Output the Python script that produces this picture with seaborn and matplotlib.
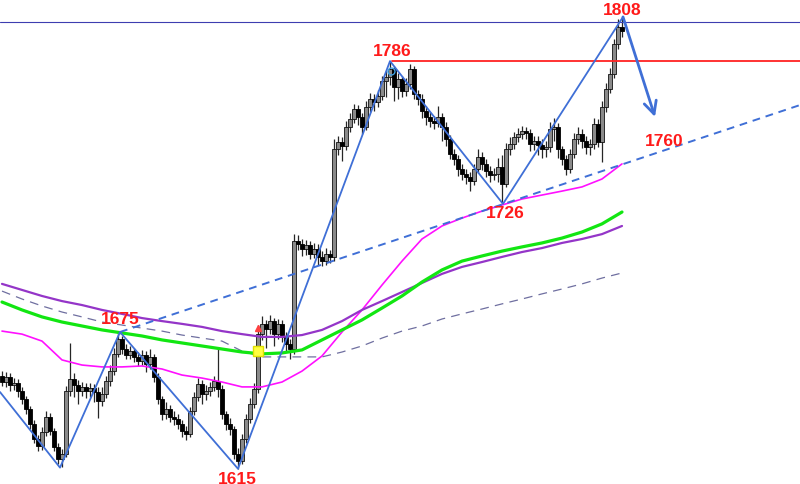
import numpy as np
import pandas as pd
import matplotlib
matplotlib.use("Agg")
import matplotlib.pyplot as plt
import seaborn as sns

# ---------------- data ----------------
open_ = [1655.0, 1652.3, 1654.5, 1651.0, 1651.9, 1648.4, 1645.0, 1640.7, 1634.3, 1627.8,
         1624.8, 1630.8, 1637.3, 1631.2, 1624.4, 1619.2, 1621.4, 1648.4, 1653.6, 1651.0,
         1648.4, 1650.2, 1648.4, 1649.7, 1648.0, 1644.1, 1647.2, 1652.7, 1657.0, 1664.4,
         1670.8, 1666.5, 1663.9, 1665.6, 1663.1, 1661.3, 1663.9, 1660.1, 1663.1, 1654.5,
         1645.0, 1638.6, 1640.7, 1637.3, 1636.4, 1634.3, 1631.2, 1630.0, 1639.8, 1645.9,
         1651.5, 1647.2, 1648.4, 1650.2, 1652.7, 1649.3, 1638.6, 1634.3, 1632.1, 1621.4,
         1618.3, 1627.8, 1636.4, 1642.9, 1649.3, 1673.0, 1677.3, 1675.1, 1678.5, 1673.0,
         1677.3, 1671.7, 1668.7, 1666.5, 1712.9, 1711.7, 1709.5, 1711.2, 1707.4, 1709.5,
         1706.1, 1704.3, 1707.4, 1706.1, 1752.5, 1755.5, 1753.8, 1762.0, 1765.4, 1769.7,
         1766.3, 1762.0, 1770.6, 1774.0, 1772.7, 1775.3, 1781.7, 1783.5, 1786.9, 1779.2,
         1782.6, 1777.4, 1780.5, 1786.9, 1776.2, 1774.0, 1768.8, 1766.3, 1764.5, 1763.7,
         1766.3, 1762.0, 1756.8, 1750.4, 1748.2, 1743.9, 1741.8, 1740.5, 1738.7, 1743.9,
         1749.1, 1746.1, 1743.0, 1741.3, 1741.8, 1744.8, 1737.5, 1752.5, 1754.7, 1757.7,
         1759.0, 1760.2, 1759.4, 1754.7, 1755.9, 1754.2, 1752.5, 1753.4, 1761.1, 1762.0,
         1752.5, 1748.2, 1743.9, 1750.4, 1756.8, 1759.0, 1755.9, 1753.4, 1754.7, 1763.3,
         1755.5, 1770.6, 1778.3, 1784.8, 1797.7, 1805.0]
close = [1652.3, 1654.5, 1651.0, 1651.9, 1648.4, 1645.0, 1640.7, 1634.3, 1627.8, 1624.8,
         1630.8, 1637.3, 1631.2, 1624.4, 1619.2, 1621.4, 1648.4, 1653.6, 1651.0, 1648.4,
         1650.2, 1648.4, 1649.7, 1648.0, 1644.1, 1647.2, 1652.7, 1657.0, 1664.4, 1670.8,
         1666.5, 1663.9, 1665.6, 1663.1, 1661.3, 1663.9, 1660.1, 1663.1, 1654.5, 1645.0,
         1638.6, 1640.7, 1637.3, 1636.4, 1634.3, 1631.2, 1630.0, 1639.8, 1645.9, 1651.5,
         1647.2, 1648.4, 1650.2, 1652.7, 1649.3, 1638.6, 1634.3, 1632.1, 1621.4, 1618.3,
         1627.8, 1636.4, 1642.9, 1649.3, 1673.0, 1677.3, 1675.1, 1678.5, 1673.0, 1677.3,
         1671.7, 1668.7, 1666.5, 1712.9, 1711.7, 1709.5, 1711.2, 1707.4, 1709.5, 1706.1,
         1704.3, 1707.4, 1706.1, 1752.5, 1755.5, 1753.8, 1762.0, 1765.4, 1769.7, 1766.3,
         1762.0, 1770.6, 1774.0, 1772.7, 1775.3, 1781.7, 1783.5, 1786.9, 1779.2, 1782.6,
         1777.4, 1780.5, 1786.9, 1776.2, 1774.0, 1768.8, 1766.3, 1764.5, 1763.7, 1766.3,
         1762.0, 1756.8, 1750.4, 1748.2, 1743.9, 1741.8, 1740.5, 1738.7, 1743.9, 1749.1,
         1746.1, 1743.0, 1741.3, 1741.8, 1744.8, 1737.5, 1752.5, 1754.7, 1757.7, 1759.0,
         1760.2, 1759.4, 1754.7, 1755.9, 1754.2, 1752.5, 1753.4, 1761.1, 1762.0, 1752.5,
         1748.2, 1743.9, 1750.4, 1756.8, 1759.0, 1755.9, 1753.4, 1754.7, 1763.3, 1755.5,
         1770.6, 1778.3, 1784.8, 1797.7, 1805.0, 1803.2]
high = [1657.0, 1656.5, 1656.0, 1654.0, 1653.5, 1650.0, 1646.5, 1642.0, 1636.0, 1629.5,
        1633.0, 1640.0, 1639.0, 1632.5, 1626.0, 1623.5, 1650.5, 1669.0, 1656.0, 1653.0,
        1652.5, 1652.0, 1652.0, 1651.5, 1650.0, 1650.0, 1655.0, 1659.5, 1667.0, 1674.0,
        1672.0, 1668.5, 1668.0, 1667.0, 1665.0, 1666.0, 1665.5, 1666.5, 1664.5, 1656.0,
        1646.5, 1643.5, 1642.5, 1640.0, 1638.5, 1636.0, 1633.5, 1641.5, 1648.0, 1654.0,
        1653.0, 1651.0, 1652.5, 1655.0, 1667.5, 1651.0, 1640.0, 1637.0, 1633.5, 1624.0,
        1630.0, 1638.5, 1645.5, 1652.0, 1677.0, 1680.5, 1679.0, 1681.0, 1680.0, 1679.5,
        1679.0, 1674.0, 1671.0, 1716.0, 1715.5, 1714.0, 1713.5, 1713.0, 1712.0, 1711.5,
        1708.5, 1710.0, 1709.0, 1757.0, 1758.0, 1757.5, 1764.5, 1768.0, 1772.0, 1771.5,
        1768.0, 1773.0, 1776.5, 1776.0, 1778.0, 1784.0, 1786.0, 1790.3, 1788.0, 1785.0,
        1784.0, 1783.0, 1789.0, 1788.0, 1778.0, 1776.0, 1771.0, 1768.5, 1766.5, 1771.0,
        1768.0, 1764.0, 1758.5, 1752.5, 1750.0, 1746.0, 1744.0, 1742.5, 1746.0, 1752.5,
        1751.0, 1748.0, 1745.0, 1744.5, 1748.5, 1750.0, 1755.0, 1757.5, 1760.0, 1761.5,
        1762.5, 1762.0, 1761.0, 1758.0, 1758.0, 1757.0, 1756.0, 1764.0, 1766.0, 1763.5,
        1754.0, 1750.0, 1752.5, 1759.5, 1762.0, 1761.0, 1758.0, 1757.0, 1766.0, 1765.5,
        1773.0, 1781.0, 1787.5, 1800.0, 1808.4, 1809.3]
low = [1650.5, 1650.0, 1648.5, 1649.0, 1646.0, 1643.0, 1638.5, 1632.0, 1626.0, 1622.5,
       1623.0, 1629.0, 1629.5, 1622.5, 1617.0, 1615.8, 1620.0, 1646.5, 1646.0, 1643.0,
       1646.5, 1645.5, 1646.0, 1643.5, 1637.0, 1642.0, 1645.5, 1650.5, 1655.5, 1663.0,
       1664.5, 1662.0, 1662.0, 1661.0, 1659.0, 1659.5, 1656.5, 1658.0, 1652.5, 1643.0,
       1636.0, 1636.5, 1635.0, 1634.0, 1632.0, 1628.5, 1627.5, 1628.5, 1638.0, 1644.0,
       1643.0, 1644.5, 1646.5, 1648.5, 1646.0, 1636.5, 1631.5, 1629.5, 1619.0, 1615.0,
       1617.0, 1626.0, 1634.5, 1641.0, 1647.5, 1670.5, 1667.0, 1673.0, 1668.0, 1671.0,
       1669.5, 1665.5, 1662.0, 1664.5, 1709.0, 1706.5, 1707.0, 1705.0, 1705.5, 1702.5,
       1702.0, 1702.5, 1703.5, 1704.5, 1750.0, 1747.5, 1752.0, 1760.0, 1763.5, 1763.0,
       1759.0, 1760.5, 1768.5, 1769.0, 1770.5, 1773.5, 1775.0, 1780.0, 1773.0, 1774.0,
       1775.0, 1775.5, 1778.5, 1774.0, 1771.5, 1766.0, 1763.0, 1762.0, 1761.0, 1762.0,
       1756.0, 1754.0, 1748.0, 1745.5, 1741.0, 1739.0, 1737.5, 1734.5, 1737.0, 1742.0,
       1743.5, 1740.5, 1738.5, 1739.0, 1738.5, 1728.9, 1736.0, 1750.0, 1752.5, 1755.5,
       1757.0, 1757.0, 1751.5, 1752.0, 1750.0, 1748.5, 1749.0, 1751.0, 1756.0, 1748.5,
       1745.5, 1741.5, 1742.0, 1748.5, 1754.5, 1753.0, 1750.5, 1750.0, 1752.5, 1753.5,
       1747.0, 1768.5, 1776.5, 1783.0, 1795.5, 1800.5]

# moving averages sampled every 5 bars
ma_idx = list(range(0, 156, 5))
ma_magenta = [1674.2, 1672.9, 1669.9, 1661.8, 1659.6, 1658.8, 1658.8, 1659.2, 1657.9, 1655.3,
              1654.0, 1652.3, 1650.2, 1650.2, 1652.3, 1657.0, 1663.5, 1673.8, 1683.3, 1694.0,
              1704.3, 1713.8, 1719.4, 1722.8, 1725.8, 1728.4, 1731.0, 1732.7, 1734.4, 1736.2,
              1739.6, 1746.1]
ma_green = [1686.7, 1683.3, 1680.3, 1678.1, 1676.4, 1674.7, 1673.4, 1672.1, 1670.4, 1669.1,
            1667.8, 1666.5, 1665.2, 1664.4, 1664.8, 1666.1, 1670.4, 1674.7, 1679.0, 1684.1,
            1689.3, 1695.3, 1700.5, 1704.3, 1706.5, 1708.6, 1710.4, 1712.1, 1714.2, 1716.8,
            1720.3, 1725.4]
ma_purple = [1694.5, 1691.9, 1689.3, 1687.1, 1685.4, 1683.3, 1681.6, 1679.8, 1678.5, 1677.3,
             1676.0, 1674.2, 1672.9, 1671.7, 1671.7, 1672.5, 1674.7, 1678.5, 1683.3, 1687.1,
             1691.0, 1694.9, 1698.8, 1701.8, 1703.9, 1706.1, 1708.2, 1709.9, 1712.1, 1713.8,
             1715.9, 1719.4]
ma_dashed = [1691.4, 1688.0, 1685.0, 1682.4, 1680.3, 1678.1, 1676.8, 1675.5, 1674.2, 1672.5,
             1671.2, 1669.9, 1665.6, 1663.1, 1663.1, 1663.1, 1663.1, 1665.2, 1667.8, 1671.2,
             1674.2, 1676.4, 1679.4, 1681.6, 1683.7, 1685.9, 1688.0, 1690.2, 1692.3, 1694.5,
             1697.0, 1699.2]

# zigzag swing points
zz_idx = [-0.5, 14.5, 29.5, 59.0, 97.0, 125.25, 155.25]
zz_val = [1648.0, 1615.5, 1673.8, 1615.0, 1790.3, 1728.9, 1809.3]
zz_labels = ["1675", "1615", "1786", "1726", "1808"]
label_idx = [29.5, 58.75, 97.5, 125.75, 155.0]
label_val = [1679.5, 1611.0, 1795.0, 1725.0, 1812.3]
# trend line through 1675 and 1726
trend_idx = [29.5, 199.5]
trend_val = [1673.8, 1771.4]
resist_level = 1790.5
top_level = 1807.1
target_label = "1760"
arrow_from = (155.25, 1809.3)
arrow_to = (163.25, 1766.3)

# ---------------- plotting ----------------
sns.set_style("white")
fig = plt.figure(figsize=(8.0, 4.85), dpi=100)
ax = fig.add_axes([0, 0, 1, 1])
ax.set_axis_off()
ax.set_xlim(-0.5, 199.5)
ax.set_ylim(1608.45, 1817.0)

df = pd.DataFrame({"i": np.arange(len(close)), "o": open_, "h": high, "l": low, "c": close})
ax.vlines(df["i"], df["l"], df["h"], color="#262626", lw=0.9, zorder=2)
up = df[df["c"] >= df["o"]]
dn = df[df["c"] < df["o"]]
ax.bar(up["i"], up["c"] - up["o"], bottom=up["o"], width=0.8, color="#8a8a8a",
       edgecolor="#111111", linewidth=0.6, zorder=3)
ax.bar(dn["i"], dn["o"] - dn["c"], bottom=dn["c"], width=0.8, color="#000000",
       edgecolor="#000000", linewidth=0.6, zorder=3)

sns.lineplot(x=ma_idx, y=ma_dashed, ax=ax, color="#6f6fa0", lw=0.9,
             linestyle=(0, (7, 5)), zorder=4)
sns.lineplot(x=ma_idx, y=ma_magenta, ax=ax, color="#ff10ff", lw=1.2, zorder=4)
sns.lineplot(x=ma_idx, y=ma_purple, ax=ax, color="#9435c8", lw=1.6, zorder=4)
sns.lineplot(x=ma_idx, y=ma_green, ax=ax, color="#12e612", lw=2.3, zorder=4)

# horizontal levels
ax.axhline(top_level, color="#3d3db0", lw=0.8, zorder=5)
ax.plot([97.5, 199.5], [resist_level, resist_level], color="#ff2222", lw=1.3, zorder=5)

# trend line
sns.lineplot(x=trend_idx, y=trend_val, ax=ax, color="#3f6fd6", lw=1.4,
             linestyle=(0, (4, 3)), zorder=6)
# zigzag
ax.plot(zz_idx, zz_val, color="#3f6fd6", lw=1.3, zorder=6)
ax.annotate("", xy=arrow_to, xytext=arrow_from,
            arrowprops=dict(arrowstyle="->,head_length=0.9,head_width=0.45",
                            color="#3f6fd6", lw=2.0, shrinkA=0, shrinkB=0), zorder=7)

# small markers
ax.plot([97.3], [1786.0], marker="o", ms=5, mfc="none", mec="#3f9fe0", mew=1.0, zorder=7)
ax.plot([64.0], [1665.8], marker="s", ms=7, color="#ffff40", mec="#e0e000", zorder=7)
ax.plot([64.0], [1675.5], marker="^", ms=4, color="#ff4040", zorder=7)

plt.rcParams["font.family"] = ["Liberation Sans", "DejaVu Sans"]
for t, xi, yv in zip(zz_labels, label_idx, label_val):
    ax.text(xi, yv, t, color="#ff1a1a", fontsize=12.5, fontweight="bold",
            ha="center", va="center", family=["Liberation Sans", "DejaVu Sans"], zorder=8)
ax.text(165.5, 1756.0, target_label, color="#ff1a1a", fontsize=12.5, fontweight="bold",
        ha="center", va="center", family=["Liberation Sans", "DejaVu Sans"], zorder=8)

fig.savefig("out.png", dpi=100, facecolor="white")
